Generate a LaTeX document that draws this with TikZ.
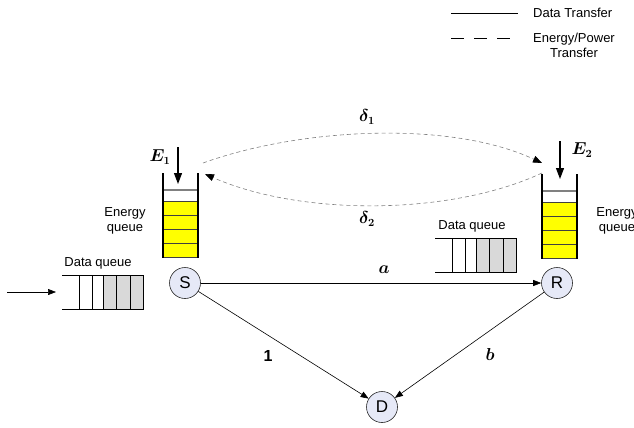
\documentclass[tikz,border=0pt]{standalone}
\usepackage{amsmath}
\usepackage{bm}
\usepackage{fontspec}
\setmainfont{Liberation Sans}
\usetikzlibrary{arrows.meta}
\definecolor{lav}{RGB}{230,233,247}
\definecolor{qgray}{RGB}{217,217,217}
\definecolor{qyel}{RGB}{255,255,0}
\tikzset{
  state/.style={circle, draw=black!85, line width=0.6pt, fill=lav, minimum size=31pt, inner sep=0pt, font=\fontsize{17}{17}\selectfont},
  txt/.style={font=\fontsize{13}{15}\selectfont, align=center, inner sep=0pt},
  mlbl/.style={inner sep=0pt, font=\fontsize{16}{16}\selectfont},
  datarrow/.style={line width=0.6pt, -{Triangle[length=8pt,width=6pt]}},
  enarrow/.style={draw=gray, line width=0.6pt, dash pattern=on 4pt off 3pt, -{Triangle[length=9pt,width=7pt,color=black]}},
  inarrow/.style={line width=1.2pt, -{Triangle[length=11pt,width=8pt]}},
  equeue/.pic={
    \fill[qyel] (-17,28) rectangle (17,84);
    \foreach \yy in {28,42,56,70,84} \draw[black!75, line width=0.8pt] (-17,\yy) -- (17,\yy);
    \draw[gray, line width=1.2pt] (-17,17) -- (17,17);
    \draw[line width=1.2pt] (-17.5,0) -- (-17.5,84.5);
    \draw[line width=1.2pt] (17.5,0) -- (17.5,84.5);
  },
  dqueue/.pic={
    \fill[qgray] (41,0) rectangle (81,34);
    \draw[line width=0.7pt] (0,0) -- (81,0) -- (81,34) -- (0,34);
    \foreach \xx in {17,30,41,54,68} \draw[line width=0.7pt] (\xx,0) -- (\xx,34);
  }
}
\begin{document}
\begin{tikzpicture}[x=1pt,y=-1pt]
\useasboundingbox (0,0) rectangle (634,428);

% legend
\coordinate (l1a) at (451,13); \coordinate (l1b) at (518,13);
\coordinate (l2a) at (451,38); \coordinate (l2b) at (518,38);
\draw[line width=0.6pt] (l1a) -- (l1b);
\draw[line width=0.6pt, dash pattern=on 13pt off 10pt] (l2a) -- (l2b);
\node[txt, anchor=west] (leg1) at (533,13) {Data Transfer};
\node[txt] (leg2) at (574,45) {Energy/Power\\Transfer};

% energy queues
\pic at (180.5,173) {equeue};
\pic at (559.5,174) {equeue};
\coordinate (sTopA) at (203,163);
\coordinate (sTopB) at (205,174);
\coordinate (rTopA) at (542,163);
\coordinate (rTopB) at (542,173);

% energy arrivals
\coordinate (e1s) at (178,147); \coordinate (e1t) at (178,184);
\coordinate (e2s) at (560,141); \coordinate (e2t) at (560,179);
\draw[inarrow] (e1s) -- (e1t);
\draw[inarrow] (e2s) -- (e2t);
\node[mlbl] (E1) at (160,157) {$\bm{E_1}$};
\node[mlbl] (E2) at (582,150) {$\bm{E_2}$};

\node[txt] (eqS) at (125,221) {Energy\\queue};
\node[txt] (eqR) at (617,221) {Energy\\queue};

% energy transfers
\draw[enarrow] (sTopA) .. controls (300,128) and (450,120) .. (rTopA);
\draw[enarrow] (rTopB) .. controls (450,216) and (300,216) .. (sTopB);
\node[mlbl] (d1) at (367,117) {$\bm{\delta_1}$};
\node[mlbl] (d2) at (367,219) {$\bm{\delta_2}$};

% data queues
\pic at (62,275) {dqueue};
\pic at (435,238) {dqueue};
\node[txt] (dqS) at (98,263) {Data queue};
\node[txt] (dqR) at (472,226) {Data queue};
\coordinate (ins) at (7,292); \coordinate (ine) at (56,292);
\draw[datarrow] (ins) -- (ine);

% nodes
\node[state] (S) at (185,283) {S};
\node[state] (R) at (557,283) {R};
\node[state] (D) at (382,407) {D};

\draw[datarrow] (S) -- (R);
\draw[datarrow] (S) -- (D);
\draw[datarrow] (R) -- (D);
\node[mlbl] (la) at (384,270) {$\bm{a}$};
\node[mlbl] (l1) at (268,356) {$\mathbf{1}$};
\node[mlbl] (lb) at (490,354) {$\bm{b}$};
\end{tikzpicture}
\end{document}
